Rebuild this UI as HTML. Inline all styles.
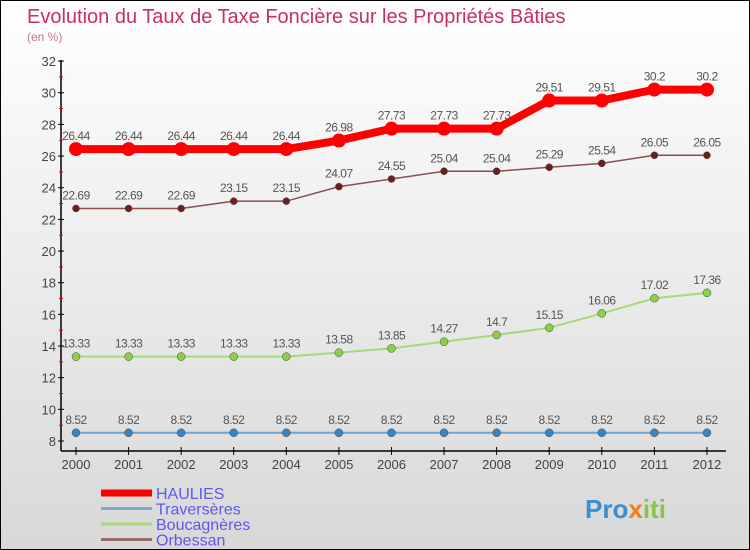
<!DOCTYPE html>
<html><head><meta charset="utf-8"><style>
body{margin:0}
#c{width:750px;height:550px;position:relative;box-sizing:border-box;border:1px solid #000;background:linear-gradient(#fff,#d8d8d8);font-family:"Liberation Sans",sans-serif;overflow:hidden}
</style></head><body>
<div id="c">
<svg id="s" width="750" height="550" style="position:absolute;left:0;top:0">
<text x="26" y="22" font-size="20" fill="#c8305e">Evolution du Taux de Taxe Foncière sur les Propriétés Bâties</text>
<text x="26" y="40" font-size="12" fill="#c8708e">(en %)</text>
<text x="584" y="517" font-size="26" font-weight="bold" fill="#3a8fd0">Pro<tspan fill="#f07f1a">x</tspan><tspan fill="#8bc34a">iti</tspan></text>
</svg>
</div>
<script>
const years=[2000,2001,2002,2003,2004,2005,2006,2007,2008,2009,2010,2011,2012];
const haulies=[26.44,26.44,26.44,26.44,26.44,26.98,27.73,27.73,27.73,29.51,29.51,30.2,30.2];
const traverseres=[8.52,8.52,8.52,8.52,8.52,8.52,8.52,8.52,8.52,8.52,8.52,8.52,8.52];
const boucagneres=[13.33,13.33,13.33,13.33,13.33,13.58,13.85,14.27,14.7,15.15,16.06,17.02,17.36];
const orbessan=[22.69,22.69,22.69,23.15,23.15,24.07,24.55,25.04,25.04,25.29,25.54,26.05,26.05];
const yTicks=[8,10,12,14,16,18,20,22,24,26,28,30,32];
const NS="http://www.w3.org/2000/svg";
const s=document.getElementById('s');
const X=i=>75+i*52.58;
const Y=v=>440-(v-8)*15.83;
function mk(t,a,p){const e=document.createElementNS(NS,t);for(const k in a)e.setAttribute(k,a[k]);(p||s).appendChild(e);return e;}
let ax=mk('line',{x1:60,y1:59,x2:60,y2:450,stroke:'#000','stroke-width':1.5});


let xa=mk('line',{x1:60,y1:450,x2:725,y2:450,stroke:'#000','stroke-width':1.5});


yTicks.forEach((v,k)=>{
 mk('line',{x1:57,y1:Y(v),x2:63,y2:Y(v),stroke:'#000'});
 if(k<yTicks.length-1) mk('line',{x1:58,y1:Y(v+1),x2:62,y2:Y(v+1),stroke:'#e00'});
 const t=mk('text',{x:55,y:Y(v)+5,'text-anchor':'end','font-size':13,fill:'#444'});
 t.textContent=v;
 
 
});
years.forEach((y,i)=>{
 mk('line',{x1:X(i),y1:446,x2:X(i),y2:454,stroke:'#000'});
 const t=mk('text',{x:X(i),y:468,'text-anchor':'middle','font-size':13,fill:'#444'});
 t.textContent=y;
 
 
});
function series(d,col,w,r,dot,name){
 const g=mk('g',{});
 
 
 mk('polyline',{points:d.map((v,i)=>X(i)+','+Y(v)).join(' '),fill:'none',stroke:col,'stroke-width':w},g);
 d.forEach((v,i)=>{
  const c=mk('circle',{cx:X(i),cy:Y(v),r:r,fill:dot,stroke:w>3?'none':'#444','stroke-width':0.5},g);
  
  
  const t=mk('text',{x:X(i),y:Y(v)-9,'text-anchor':'middle','font-size':12,fill:'#555','letter-spacing':'-0.5'},g);
  t.textContent=v;
  
  
 });
}
series(traverseres,'#6fa3d0',2,4,'#3a85c0','traverseres');
series(boucagneres,'#a6d97a',2,4,'#8ccf4a','boucagneres');
series(orbessan,'#8b4f4f',1.5,3.5,'#6b1f1f','orbessan');
series(haulies,'#f00',8,7,'#f00','haulies');
const leg=[['HAULIES','#f00',7],['Traversères','#7fa7c8',3],['Boucagnères','#a6d97a',3],['Orbessan','#9a6a6a',3]];
leg.forEach((l,i)=>{
 const y=492+i*15.5;
 const g=mk('g',{});
 
 
 mk('line',{x1:100,y1:y,x2:151,y2:y,stroke:l[1],'stroke-width':l[2]},g);
 const t=mk('text',{x:155,y:y+6,'font-size':16,fill:'#5a5aee'},g);
 t.textContent=l[0];
});
</script>
</body></html>
